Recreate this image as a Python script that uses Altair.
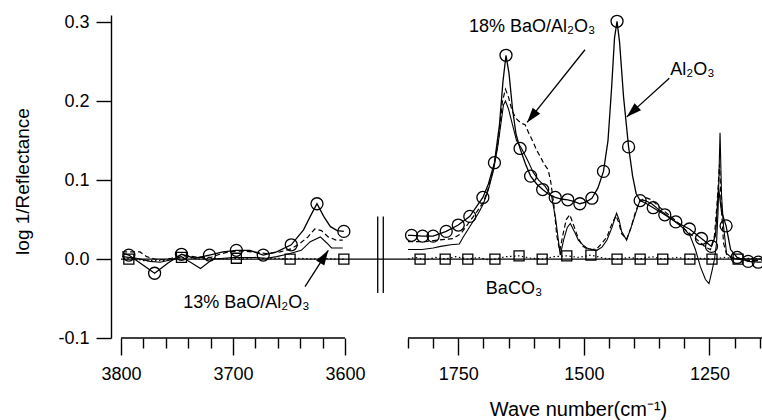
import math
import altair as alt
import pandas as pd

FONT = "Liberation Sans"
INK = "black"

# ---------------- left window: 3800-3600 cm-1 ----------------
AL_L_WN = [3798, 3793, 3782, 3770, 3758, 3746, 3734, 3721, 3709, 3697, 3685, 3673,
           3661, 3648, 3637, 3631, 3625, 3619, 3613, 3607, 3601]
AL_L_VAL = [0.007, 0.005, -0.006, -0.018, -0.005, 0.006, 0.001, 0.005, 0.009, 0.011,
            0.011, 0.005, 0.009, 0.018, 0.037, 0.054, 0.070, 0.054, 0.041, 0.036, 0.035]
AL_L_MARK_WN = [3793, 3770, 3746, 3721, 3697, 3673, 3648, 3625, 3601]
AL_L_MARK_VAL = [0.005, -0.018, 0.006, 0.005, 0.011, 0.005, 0.018, 0.070, 0.035]

B18_L_WN = [3799, 3790, 3783, 3777, 3770, 3762, 3755, 3748, 3740, 3730, 3720, 3712, 3704,
            3697, 3690, 3682, 3670, 3658, 3648, 3640, 3633, 3627, 3621, 3615, 3608, 3602]
B18_L_VAL = [0.009, 0.009, 0.009, 0.003, 0.000, -0.001, 0.001, 0.004, 0.004, 0.002, 0.002,
             0.006, 0.009, 0.010, 0.010, 0.009, 0.007, 0.009, 0.013, 0.020, 0.028, 0.038,
             0.036, 0.028, 0.024, 0.024]

B13_L_WN = [3799, 3786, 3774, 3765, 3755, 3746, 3738, 3729, 3718, 3708, 3700, 3690, 3680,
            3670, 3661, 3649, 3639, 3631, 3622, 3616, 3612, 3602]
B13_L_VAL = [0.003, 0.001, -0.003, -0.004, -0.001, 0.003, -0.004, -0.012, 0.000, 0.001,
             0.002, 0.002, 0.002, 0.001, 0.003, 0.007, 0.011, 0.022, 0.028, 0.020, 0.014, 0.014]

BC_L_WN = [3798, 3790, 3780, 3770, 3760, 3750, 3740, 3730, 3720, 3710, 3700, 3690, 3680,
           3670, 3660, 3650, 3640, 3630, 3620, 3610, 3600]
BC_L_VAL = [0.000, 0.001, -0.002, -0.002, -0.002, 0.001, 0.002, 0.000, 0.001, 0.000, 0.001,
            0.000, 0.002, 0.000, 0.001, 0.000, 0.001, 0.000, 0.001, 0.000, 0.000]
BC_L_MARK_WN = [3793, 3746, 3697, 3649, 3601]
BC_L_MARK_VAL = [0.000, 0.002, 0.001, 0.000, 0.000]

# ---------------- right window: 1850-1150 cm-1 ----------------
AL_R_WN = [1850, 1843, 1821, 1800, 1774, 1750, 1727, 1701, 1690, 1678, 1668, 1661, 1655,
           1649, 1642, 1635, 1627, 1616, 1606, 1594, 1582, 1570, 1557, 1545, 1532, 1520,
           1508, 1496, 1484, 1472, 1461, 1452, 1445, 1439, 1434, 1429, 1421, 1411, 1403,
           1396, 1388, 1375, 1362, 1339, 1317, 1290, 1266, 1246, 1238, 1232, 1226, 1217,
           1208, 1195, 1173, 1153, 1146]
AL_R_VAL = [0.030, 0.030, 0.029, 0.029, 0.035, 0.043, 0.054, 0.078, 0.095, 0.122, 0.170,
            0.225, 0.258, 0.235, 0.190, 0.158, 0.140, 0.120, 0.105, 0.095, 0.088, 0.082,
            0.078, 0.076, 0.075, 0.073, 0.070, 0.072, 0.077, 0.090, 0.111, 0.150, 0.215,
            0.280, 0.301, 0.275, 0.205, 0.142, 0.105, 0.083, 0.074, 0.070, 0.065, 0.056,
            0.047, 0.038, 0.026, 0.016, 0.030, 0.090, 0.060, 0.042, 0.012, 0.002, -0.003,
            -0.004, -0.004]
AL_R_MARK_WN = [1843, 1821, 1800, 1774, 1750, 1727, 1701, 1678, 1655, 1627, 1606, 1582,
                1557, 1532, 1508, 1484, 1461, 1434, 1411, 1388, 1362, 1339, 1317, 1290,
                1266, 1246, 1217, 1195, 1173, 1153]
AL_R_MARK_VAL = [0.030, 0.029, 0.029, 0.035, 0.043, 0.054, 0.078, 0.122, 0.258, 0.140,
                 0.105, 0.088, 0.078, 0.075, 0.070, 0.077, 0.111, 0.301, 0.142, 0.074,
                 0.065, 0.056, 0.047, 0.038, 0.026, 0.016, 0.042, 0.002, -0.003, -0.004]

B13_R_WN = [1850, 1822, 1800, 1785, 1765, 1748, 1740, 1725, 1710, 1700, 1690, 1680, 1672,
            1665, 1660, 1656, 1650, 1642, 1634, 1624, 1612, 1601, 1590, 1577, 1564, 1556,
            1547, 1540, 1533, 1527, 1519, 1511, 1502, 1494, 1484, 1474, 1464, 1454, 1444,
            1435, 1430, 1425, 1415, 1406, 1398, 1388, 1378, 1365, 1350, 1340, 1320, 1300,
            1289, 1278, 1268, 1258, 1251, 1245, 1240, 1236, 1233, 1229, 1226, 1222, 1216,
            1208, 1200, 1180, 1160, 1146]
B13_R_VAL = [0.012, 0.012, 0.014, 0.016, 0.018, 0.019, 0.028, 0.043, 0.058, 0.070, 0.088,
             0.112, 0.140, 0.172, 0.195, 0.200, 0.190, 0.170, 0.150, 0.140, 0.125, 0.110,
             0.100, 0.092, 0.079, 0.050, 0.005, 0.025, 0.040, 0.045, 0.035, 0.024, 0.018,
             0.014, 0.012, 0.011, 0.015, 0.024, 0.040, 0.058, 0.050, 0.035, 0.024, 0.040,
             0.056, 0.075, 0.074, 0.070, 0.062, 0.058, 0.048, 0.038, 0.030, 0.012, -0.010,
             -0.026, -0.031, -0.015, 0.000, 0.020, 0.060, 0.160, 0.080, 0.041, 0.007,
             0.003, 0.001, 0.000, 0.000, 0.000]

B18_R_WN = [1850, 1820, 1790, 1760, 1745, 1730, 1715, 1700, 1690, 1680, 1670, 1662, 1656,
            1650, 1643, 1635, 1625, 1617, 1610, 1601, 1594, 1587, 1579, 1571, 1566, 1560,
            1554, 1548, 1542, 1535, 1528, 1520, 1511, 1502, 1494, 1484, 1474, 1464, 1454,
            1444, 1436, 1430, 1425, 1415, 1406, 1398, 1390, 1378, 1365, 1350, 1335, 1320,
            1300, 1285, 1270, 1258, 1248, 1240, 1235, 1230, 1226, 1222, 1216, 1208, 1195,
            1175, 1160, 1146]
B18_R_VAL = [0.022, 0.022, 0.024, 0.026, 0.032, 0.045, 0.058, 0.072, 0.090, 0.115, 0.150,
             0.200, 0.215, 0.205, 0.188, 0.178, 0.172, 0.170, 0.160, 0.148, 0.138, 0.130,
             0.120, 0.113, 0.098, 0.070, 0.030, 0.010, 0.030, 0.050, 0.056, 0.042, 0.026,
             0.016, 0.013, 0.012, 0.013, 0.020, 0.028, 0.045, 0.055, 0.045, 0.032, 0.025,
             0.040, 0.058, 0.072, 0.078, 0.075, 0.066, 0.058, 0.050, 0.038, 0.030, 0.022,
             0.015, 0.012, 0.030, 0.070, 0.120, 0.060, 0.020, 0.006, 0.002, 0.000, -0.002,
             -0.002, -0.002]

BC_R_WN = [1850, 1835, 1815, 1795, 1776, 1755, 1731, 1710, 1690, 1677, 1655, 1629, 1605,
           1583, 1560, 1534, 1510, 1486, 1460, 1434, 1410, 1388, 1365, 1343, 1315, 1289,
           1265, 1245, 1220, 1193, 1170, 1146]
BC_R_VAL = [0.000, 0.002, -0.001, 0.002, 0.000, 0.003, 0.000, 0.002, -0.001, 0.000, 0.003,
            0.004, 0.001, 0.000, 0.003, 0.004, 0.002, 0.005, 0.001, 0.000, 0.002, 0.000,
            0.003, 0.000, 0.002, 0.000, 0.001, 0.000, 0.002, 0.000, 0.001, 0.000]
BC_R_MARK_WN = [1826, 1776, 1731, 1677, 1629, 1583, 1534, 1486, 1434, 1388, 1343, 1289,
                1245, 1193]
BC_R_MARK_VAL = [0.000, 0.000, 0.000, 0.000, 0.004, 0.000, 0.004, 0.005, 0.000, 0.000,
                 0.000, 0.000, 0.000, 0.000]

# ---------------- annotations ----------------
LABELS_L = ["13% BaO/Al\u2082O\u2083"]
LABELS_L_WN = [3688]
LABELS_L_VAL = [-0.062]
LABELS_R = ["18% BaO/Al\u2082O\u2083", "Al\u2082O\u2083", "BaCO\u2083"]
LABELS_R_WN = [1603, 1284, 1639]
LABELS_R_VAL = [0.288, 0.233, -0.044]

ARROWS_L = {"wn": [3635.7], "val": [-0.035], "wn2": [3614.9], "val2": [0.011]}
ARROWS_R = {"wn": [1497.8, 1330.0], "val": [0.265, 0.229],
            "wn2": [1613.0, 1414.8], "val2": [0.173, 0.180]}

# ---------------- axes / layout ----------------
LEFT_DOMAIN = [3800, 3573.2]
RIGHT_DOMAIN = [1915.7, 1145.5]
Y_DOMAIN = [-0.1, 0.309]
LEFT_TICKS = list(range(3800, 3599, -20))
RIGHT_TICKS = list(range(1850, 1149, -50))
Y_TICKS = [-0.1, 0.0, 0.1, 0.2, 0.3]
LEFT_AXIS_SPAN = [3800, 3600]
RIGHT_AXIS_SPAN = [1850, 1145.5]
BREAK_WN = [1910.3, 1899.2]
BREAK_SPAN = [-0.043, 0.054]

PX_LEFT, PX_RIGHT, PLOT_H = 254, 387, 323
PLOT_W = PX_LEFT + PX_RIGHT
KX_L = PX_LEFT / (LEFT_DOMAIN[0] - LEFT_DOMAIN[1])
KX_R = PX_RIGHT / (RIGHT_DOMAIN[0] - RIGHT_DOMAIN[1])
KY = PLOT_H / (Y_DOMAIN[1] - Y_DOMAIN[0])

ARROW_HEAD = "M0,0L-0.32,1L0.32,1Z"


def frame(wn, val):
    return pd.DataFrame({"wn": wn, "val": val})


def heading(d, kx):
    out = []
    for x0, y0, x1, y1 in zip(d["wn"], d["val"], d["wn2"], d["val2"]):
        dx = -(x1 - x0) * kx
        dy = -(y1 - y0) * KY
        out.append(math.degrees(math.atan2(dx, -dy)) % 360)
    return out


def x_axis(ticks, major, **extra):
    cond = f"datum.value % {major} === 0"
    return alt.Axis(values=ticks, format="d", labelExpr=f"{cond} ? datum.label : ''",
                    tickSize={"condition": {"test": cond, "value": 17}, "value": 10},
                    orient="bottom", domain=False, grid=False, labelFont=FONT,
                    labelFontSize=18, labelColor=INK, tickColor=INK, tickWidth=1.4,
                    labelPadding=10, labelFlush=False, labelOverlap=False, **extra)


xs_left = alt.Scale(domain=LEFT_DOMAIN, range=[0, PX_LEFT], nice=False, zero=False)
xs_right = alt.Scale(domain=RIGHT_DOMAIN, range=[PX_LEFT, PLOT_W], nice=False, zero=False)
ax_left = x_axis(LEFT_TICKS, 100, title=None)
ax_right = x_axis(RIGHT_TICKS, 250, title="Wave number(cm\u207b\u00b9)", titleFont=FONT,
                  titleFontSize=20, titleFontWeight="normal", titleColor=INK,
                  titleX=457, titleY=77, titleBaseline="alphabetic", titleAlign="center")

y_axis = alt.Axis(values=Y_TICKS,
                  labelExpr="datum.value < 0 ? '-' + format(-datum.value, '.1f') : format(datum.value, '.1f')",
                  offset=10, tickSize=15, tickWidth=1.4, domainWidth=1.4, domainColor=INK,
                  tickColor=INK, labelFont=FONT, labelFontSize=18, labelColor=INK,
                  labelPadding=7, grid=False, title="log 1/Reflectance", titleFont=FONT,
                  titleFontSize=19, titleFontWeight="normal", titleColor=INK,
                  titleX=-89, titleY=166, titleAlign="center", titleBaseline="middle",
                  titleAngle=270)


def Y():
    return alt.Y("val:Q", scale=alt.Scale(domain=Y_DOMAIN, nice=False, zero=False), axis=y_axis)


def panel(scale, axis, kx, dom, span, al, al_m, b18, b13, bc, bc_m, labels, arrows, extra=()):
    def X():
        return alt.X("wn:Q", scale=scale, axis=axis)

    layers = []
    layers.append(alt.Chart(pd.DataFrame({"wn": [dom[0]], "wn2": [dom[1]], "val": [0.0]}))
                  .mark_rule(color=INK, strokeWidth=1.3)
                  .encode(x=X(), x2=alt.X2("wn2"), y=Y()))
    layers.append(alt.Chart(pd.DataFrame({"wn": [span[0]], "wn2": [span[1]], "val": [Y_DOMAIN[0]]}))
                  .mark_rule(color=INK, strokeWidth=1.4)
                  .encode(x=X(), x2=alt.X2("wn2"), y=Y()))
    layers.extend(extra_layer(X) for extra_layer in extra)
    layers.append(alt.Chart(frame(*bc)).mark_line(color=INK, strokeWidth=1.2, strokeDash=[1.5, 2.5])
                  .encode(x=X(), y=Y()))
    layers.append(alt.Chart(frame(*b13)).mark_line(color=INK, strokeWidth=1.1)
                  .encode(x=X(), y=Y()))
    layers.append(alt.Chart(frame(*b18)).mark_line(color=INK, strokeWidth=1.2, strokeDash=[5, 3])
                  .encode(x=X(), y=Y()))
    layers.append(alt.Chart(frame(*al)).mark_line(color=INK, strokeWidth=1.3)
                  .encode(x=X(), y=Y()))
    layers.append(alt.Chart(frame(*al_m)).mark_point(shape="circle", size=144, filled=False,
                                                     color=INK, opacity=1, strokeWidth=1.3)
                  .encode(x=X(), y=Y()))
    layers.append(alt.Chart(frame(*bc_m)).mark_point(shape="square", size=100, filled=False,
                                                     color=INK, opacity=1, strokeWidth=1.3)
                  .encode(x=X(), y=Y()))
    lab = pd.DataFrame({"label": labels[0], "wn": labels[1], "val": labels[2]})
    layers.append(alt.Chart(lab).mark_text(font=FONT, fontSize=18, color=INK, align="center",
                                           baseline="alphabetic")
                  .encode(x=X(), y=Y(), text="label:N"))
    arr = pd.DataFrame(arrows)
    layers.append(alt.Chart(arr).mark_rule(color=INK, strokeWidth=1.3)
                  .encode(x=X(), x2=alt.X2("wn2"), y=Y(), y2=alt.Y2("val2")))
    heads = pd.DataFrame({"wn": arrows["wn2"], "val": arrows["val2"], "ang": heading(arrows, kx)})
    layers.append(alt.Chart(heads).mark_point(shape=ARROW_HEAD, size=900, filled=True,
                                              color=INK, opacity=1)
                  .encode(x=X(), y=Y(), angle=alt.Angle("ang:Q", scale=None)))
    return alt.layer(*layers)


def break_marks(X):
    d = pd.DataFrame({"wn": BREAK_WN, "val": [BREAK_SPAN[0]] * 2, "val2": [BREAK_SPAN[1]] * 2})
    return alt.Chart(d).mark_rule(color=INK, strokeWidth=1.3).encode(
        x=X(), y=Y(), y2=alt.Y2("val2"))


left = panel(xs_left, ax_left, KX_L, LEFT_DOMAIN, LEFT_AXIS_SPAN,
             (AL_L_WN, AL_L_VAL), (AL_L_MARK_WN, AL_L_MARK_VAL),
             (B18_L_WN, B18_L_VAL), (B13_L_WN, B13_L_VAL),
             (BC_L_WN, BC_L_VAL), (BC_L_MARK_WN, BC_L_MARK_VAL),
             (LABELS_L, LABELS_L_WN, LABELS_L_VAL), ARROWS_L)
right = panel(xs_right, ax_right, KX_R, RIGHT_DOMAIN, RIGHT_AXIS_SPAN,
              (AL_R_WN, AL_R_VAL), (AL_R_MARK_WN, AL_R_MARK_VAL),
              (B18_R_WN, B18_R_VAL), (B13_R_WN, B13_R_VAL),
              (BC_R_WN, BC_R_VAL), (BC_R_MARK_WN, BC_R_MARK_VAL),
              (LABELS_R, LABELS_R_WN, LABELS_R_VAL), ARROWS_R, extra=(break_marks,))

chart = (alt.layer(left, right)
         .resolve_scale(x="independent")
         .resolve_axis(x="independent")
         .properties(width=PLOT_W, height=PLOT_H,
                     autosize=alt.AutoSizeParams(type="none"),
                     padding={"left": 121, "top": 15, "right": 0, "bottom": 82})
         .configure_view(strokeWidth=0))

chart.save("out.html", embed_options={"renderer": "svg", "actions": False})
